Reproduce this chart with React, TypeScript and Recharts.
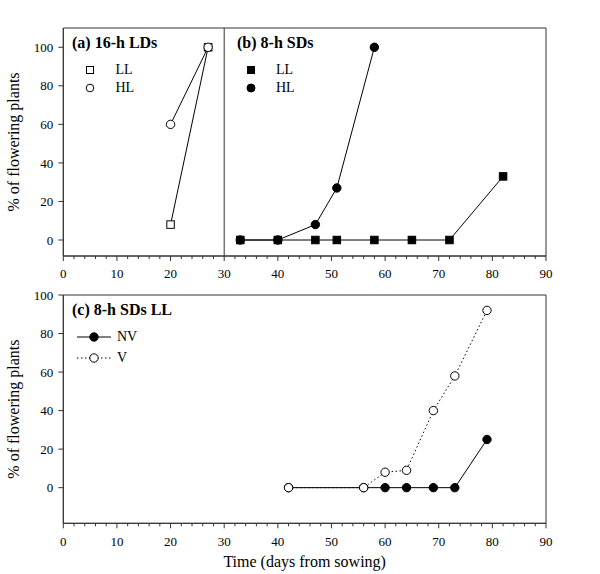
import React from "react";
import {
  LineChart,
  Line,
  XAxis,
  YAxis,
  ReferenceArea,
  ReferenceLine,
  Legend
} from "recharts";

// (a) 16-h LDs
const ldDays = [20, 27];
const ldLL = [8, 100];
const ldHL = [60, 100];

// (b) 8-h SDs
const sdLLDays = [33, 40, 47, 51, 58, 65, 72, 82];
const sdLL = [0, 0, 0, 0, 0, 0, 0, 33];
const sdHLDays = [33, 40, 47, 51, 58];
const sdHL = [0, 0, 8, 27, 100];

// (c) 8-h SDs LL
const llDays = [42, 56, 60, 64, 69, 73, 79];
const llNV = [0, 0, 0, 0, 0, 0, 25];
const llV = [0, 0, 8, 9, 40, 58, 92];

const xTicks = Array.from({ length: 46 }, (_, i) => i * 2);
const yTicks = [0, 20, 40, 60, 80, 100];
const topDomain = [-8.3, 110];
const bottomDomain = [-18.5, 100];

const FONT = "Liberation Serif, Times New Roman, serif";
const INK = "#000";
const AXIS = "#333";

const toRows = (days, vals) => days.map((day, i) => ({ day, pct: vals[i] }));

const XTick = (props) => {
  const { x, y, payload } = props;
  const major = payload.value % 10 === 0;
  return (
    <g>
      <line x1={x} y1={y} x2={x} y2={y + (major ? 5 : 3)} stroke={AXIS} />
      {major && (
        <text x={x} y={y + 13} dy="0.71em" textAnchor="middle" fill={INK} style={{ fontSize: 13, fontFamily: FONT }}>
          {payload.value}
        </text>
      )}
    </g>
  );
};

const YTick = (props) => {
  const { x, y, payload } = props;
  return (
    <text x={x} y={y} dy="0.355em" textAnchor="end" fill={INK} style={{ fontSize: 13, fontFamily: FONT }}>
      {payload.value}
    </text>
  );
};

const YTitle = (props) => {
  const { viewBox } = props;
  const cy = viewBox.y + viewBox.height / 2;
  const cx = viewBox.x + 13.4;
  return (
    <text x={cx} y={cy} dy="0.33em" textAnchor="middle" fill={INK} transform={`rotate(-90 ${cx} ${cy})`} style={{ fontSize: 16, fontFamily: FONT }}>
      % of flowering plants
    </text>
  );
};

const XTitle = (props) => {
  const { viewBox } = props;
  const cx = viewBox.x + viewBox.width / 2;
  return (
    <text x={cx} y={viewBox.y + 43.5} textAnchor="middle" fill={INK} style={{ fontSize: 16, fontFamily: FONT }}>
      Time (days from sowing)
    </text>
  );
};

const squareDot = (fill) => (p) => (
  <rect key={`sq-${p.index}`} x={p.cx - 3.75} y={p.cy - 3.75} width={7.5} height={7.5} fill={fill} stroke={INK} strokeWidth={1} />
);
const circleDot = (fill) => (p) => (
  <circle key={`ci-${p.index}`} cx={p.cx} cy={p.cy} r={4.2} fill={fill} stroke={INK} strokeWidth={1} />
);

const Icon = ({ cx, cy, kind }) => (
  <svg width={40} height={20} style={{ position: "absolute", left: cx - 20, top: cy - 10, overflow: "visible" }}>
    {kind === "openSquare" && <rect x={16.5} y={6.5} width={7} height={7} fill="#fff" stroke={INK} />}
    {kind === "square" && <rect x={16.5} y={6.5} width={7} height={7} fill={INK} stroke={INK} />}
    {kind === "openCircle" && <circle cx={20} cy={10} r={3.8} fill="#fff" stroke={INK} />}
    {kind === "circle" && <circle cx={20} cy={10} r={4} fill={INK} stroke={INK} />}
    {kind === "lineDot" && (
      <>
        <line x1={3} y1={10} x2={37} y2={10} stroke={INK} />
        <circle cx={20} cy={10} r={4.2} fill={INK} stroke={INK} />
      </>
    )}
    {kind === "dotLineOpen" && (
      <>
        <line x1={3} y1={10} x2={37} y2={10} stroke={INK} strokeDasharray="1.5 2.5" />
        <circle cx={20} cy={10} r={4.2} fill="#fff" stroke={INK} />
      </>
    )}
  </svg>
);

const Title = ({ left, cy, children }) => (
  <div style={{ position: "absolute", left, top: cy - 9, lineHeight: "18px", fontSize: 16, fontWeight: "bold", fontFamily: FONT, whiteSpace: "nowrap", color: INK }}>
    {children}
  </div>
);

const Item = ({ left, cy, children }) => (
  <div style={{ position: "absolute", left, top: cy - 9, lineHeight: "18px", fontSize: 14, fontFamily: FONT, whiteSpace: "nowrap", color: INK }}>
    {children}
  </div>
);

const TopKey = () => (
  <div style={{ position: "relative" }}>
    <Title left={72} cy={43}>(a) 16-h LDs</Title>
    <Icon cx={90} cy={70} kind="openSquare" />
    <Item left={115.5} cy={70}>LL</Item>
    <Icon cx={90} cy={88} kind="openCircle" />
    <Item left={115.5} cy={88}>HL</Item>

    <Title left={237} cy={43}>(b) 8-h SDs</Title>
    <Icon cx={250.5} cy={70} kind="square" />
    <Item left={276} cy={70}>LL</Item>
    <Icon cx={250.5} cy={88} kind="circle" />
    <Item left={276} cy={88}>HL</Item>
  </div>
);

const BottomKey = () => (
  <div style={{ position: "relative" }}>
    <Title left={72} cy={28}>(c) 8-h SDs LL</Title>
    <Icon cx={94} cy={54.7} kind="lineDot" />
    <Item left={117} cy={54.7}>NV</Item>
    <Icon cx={94} cy={76.3} kind="dotLineOpen" />
    <Item left={117} cy={76.3}>V</Item>
  </div>
);

const commonX = {
  type: "number",
  dataKey: "day",
  domain: [0, 90],
  ticks: xTicks,
  interval: 0,
  tickSize: 0,
  tickMargin: 0,
  tickLine: false,
  axisLine: { stroke: AXIS },
  tick: (p) => <XTick {...p} />,
  allowDataOverflow: true
};

const commonY = {
  type: "number",
  ticks: yTicks,
  width: 63.3,
  tickSize: 5,
  tickMargin: 5,
  interval: 0,
  allowDataOverflow: true,
  axisLine: { stroke: AXIS },
  tickLine: { stroke: AXIS },
  tick: (p) => <YTick {...p} />,
  label: (p) => <YTitle {...p} />
};

export default function App() {
  return (
    <div style={{ position: "absolute", left: 0, top: 0, width: 600, height: 574, background: "#fff", fontFamily: FONT }}>
      <div style={{ position: "absolute", left: 0, top: 0 }}>
        <LineChart width={600} height={282} margin={{ top: 28, right: 54, bottom: 0, left: 0 }}>
          <XAxis {...commonX} height={26} />
          <YAxis {...commonY} domain={topDomain} />
          <ReferenceArea x1={0} x2={90} y1={topDomain[0]} y2={topDomain[1]} fill="none" fillOpacity={0} stroke={AXIS} />
          <ReferenceLine x={30} stroke={AXIS} />
          <Line data={toRows(ldDays, ldLL)} dataKey="pct" stroke={INK} strokeWidth={1} dot={squareDot("#fff")} activeDot={false} isAnimationActive={false} legendType="none" />
          <Line data={toRows(ldDays, ldHL)} dataKey="pct" stroke={INK} strokeWidth={1} dot={circleDot("#fff")} activeDot={false} isAnimationActive={false} legendType="none" />
          <Line data={toRows(sdLLDays, sdLL)} dataKey="pct" stroke={INK} strokeWidth={1} dot={squareDot(INK)} activeDot={false} isAnimationActive={false} legendType="none" />
          <Line data={toRows(sdHLDays, sdHL)} dataKey="pct" stroke={INK} strokeWidth={1} dot={circleDot(INK)} activeDot={false} isAnimationActive={false} legendType="none" />
          <Legend layout="vertical" align="center" verticalAlign="middle" wrapperStyle={{ left: 0, top: 0, width: 600, height: 0 }} content={() => <TopKey />} />
        </LineChart>
      </div>
      <div style={{ position: "absolute", left: 0, top: 282 }}>
        <LineChart width={600} height={292} margin={{ top: 13, right: 54, bottom: 0, left: 0 }}>
          <XAxis {...commonX} height={50.7} label={(p) => <XTitle {...p} />} />
          <YAxis {...commonY} domain={bottomDomain} />
          <ReferenceArea x1={0} x2={90} y1={bottomDomain[0]} y2={bottomDomain[1]} fill="none" fillOpacity={0} stroke={AXIS} />
          <Line data={toRows(llDays, llNV)} dataKey="pct" stroke={INK} strokeWidth={1} dot={circleDot(INK)} activeDot={false} isAnimationActive={false} legendType="none" />
          <Line data={toRows(llDays, llV)} dataKey="pct" stroke={INK} strokeWidth={1} strokeDasharray="1.5 2.5" dot={circleDot("#fff")} activeDot={false} isAnimationActive={false} legendType="none" />
          <Legend layout="vertical" align="center" verticalAlign="middle" wrapperStyle={{ left: 0, top: 0, width: 600, height: 0 }} content={() => <BottomKey />} />
        </LineChart>
      </div>
    </div>
  );
}
